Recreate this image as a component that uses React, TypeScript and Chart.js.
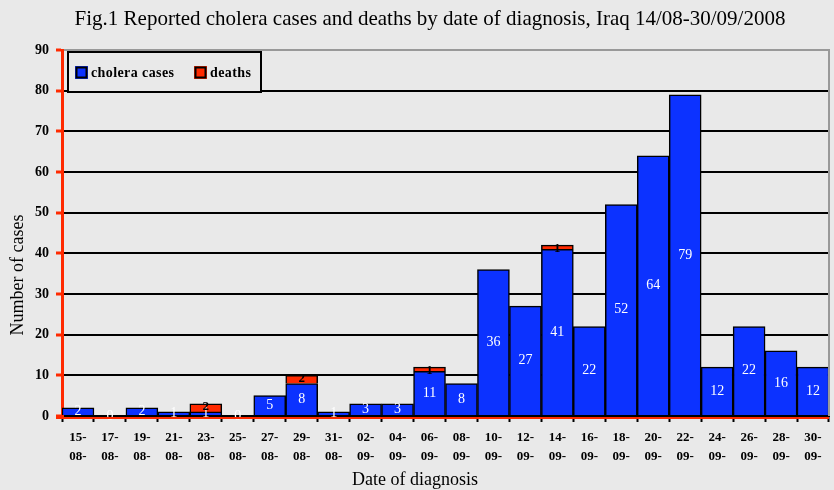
import React, { useEffect, useRef } from 'react';
import { Chart, registerables } from 'chart.js';

Chart.register(...registerables);

const categories = [
  '15-08', '17-08', '19-08', '21-08', '23-08', '25-08', '27-08', '29-08',
  '31-08', '02-09', '04-09', '06-09', '08-09', '10-09', '12-09', '14-09',
  '16-09', '18-09', '20-09', '22-09', '24-09', '26-09', '28-09', '30-09',
];
const choleraCases = [2, 0, 2, 1, 1, 0, 5, 8, 1, 3, 3, 11, 8, 36, 27, 41, 22, 52, 64, 79, 12, 22, 16, 12];
const deaths = [0, 0, 0, 0, 2, 0, 0, 2, 0, 0, 0, 1, 0, 0, 0, 1, 0, 0, 0, 0, 0, 0, 0, 0];
const yMin = 0;
const yMax = 90;
const yStep = 10;

const titleText = 'Fig.1 Reported cholera cases and deaths by date of diagnosis, Iraq 14/08-30/09/2008';
const xTitle = 'Date of diagnosis';
const yTitle = 'Number of cases';
const seriesNames = ['cholera cases', 'deaths'];

const BG = '#e9e9e9';
const BLUE = '#0c32ff';
const RED = '#ff2a00';
const SERIF = '"Liberation Serif", "Times New Roman", serif';

export default function App() {
  const ref = useRef<HTMLCanvasElement>(null);

  useEffect(() => {
    document.body.style.margin = '0';
    document.body.style.background = BG;
    const canvas = ref.current!;

    const decor = {
      id: 'decor',
      beforeDraw(chart: any) {
        const { ctx, width, height } = chart;
        ctx.save();
        ctx.fillStyle = BG;
        ctx.fillRect(0, 0, width, height);
        ctx.restore();
      },
      afterDatasetsDraw(chart: any) {
        const { ctx } = chart;
        ctx.save();
        ctx.textAlign = 'center';
        ctx.textBaseline = 'middle';
        const m0 = chart.getDatasetMeta(0);
        m0.data.forEach((el: any, i: number) => {
          ctx.fillStyle = '#ffffff';
          ctx.font = `14px ${SERIF}`;
          const y = (el.y + el.base) / 2;
          ctx.fillText(String(choleraCases[i]), el.x, y);
        });
        const m1 = chart.getDatasetMeta(1);
        m1.data.forEach((el: any, i: number) => {
          if (!deaths[i]) return;
          ctx.fillStyle = '#000000';
          ctx.font = `bold 13px ${SERIF}`;
          ctx.fillText(String(deaths[i]), el.x, el.y + 3);
        });
        ctx.restore();
      },
      afterDraw(chart: any) {
        const { ctx, chartArea } = chart;
        const { left, right, top, bottom } = chartArea;
        ctx.save();
        // red line under x axis
        ctx.strokeStyle = RED;
        ctx.lineWidth = 2;
        ctx.beginPath();
        ctx.moveTo(left - 6, bottom + 2);
        ctx.lineTo(right, bottom + 2);
        ctx.stroke();
        // right border
        ctx.strokeStyle = '#999999';
        ctx.lineWidth = 2;
        ctx.beginPath();
        ctx.moveTo(right, top - 1);
        ctx.lineTo(right, bottom);
        ctx.stroke();

        // titles
        ctx.fillStyle = '#000000';
        ctx.textAlign = 'center';
        ctx.textBaseline = 'middle';
        ctx.font = `21px ${SERIF}`;
        ctx.fillText(titleText, 430, 19);
        ctx.font = `18px ${SERIF}`;
        ctx.fillText(xTitle, 415, 480);
        ctx.save();
        ctx.translate(18, 275);
        ctx.rotate(-Math.PI / 2);
        ctx.fillText(yTitle, 0, 0);
        ctx.restore();

        // legend
        const lx = 68, ly = 52, lw = 193, lh = 40;
        ctx.fillStyle = BG;
        ctx.fillRect(lx, ly, lw, lh);
        ctx.strokeStyle = '#000';
        ctx.lineWidth = 2;
        ctx.strokeRect(lx, ly, lw, lh);
        const items = [
          { x: 75, color: BLUE, text: seriesNames[0] },
          { x: 194, color: RED, text: seriesNames[1] },
        ];
        ctx.font = `bold 14px ${SERIF}`;
        (ctx as any).letterSpacing = '0.4px';
        ctx.textAlign = 'left';
        items.forEach((it) => {
          ctx.fillStyle = it.color;
          ctx.fillRect(it.x, 66, 13, 13);
          ctx.strokeStyle = '#000';
          ctx.lineWidth = 2;
          ctx.strokeRect(it.x + 1.5, 67.5, 10, 10);
          ctx.fillStyle = '#000';
          ctx.fillText(it.text, it.x + 16, 73);
        });
        ctx.restore();
      },
    };

    const chart = new Chart(canvas, {
      type: 'bar',
      data: {
        labels: categories.map((c) => [c.slice(0, 3), c.slice(3) + '-']),
        datasets: [
          {
            label: seriesNames[0],
            data: choleraCases,
            backgroundColor: BLUE,
            borderColor: '#000',
            borderWidth: 1.5,
            barPercentage: 1,
            categoryPercentage: 1,
          },
          {
            label: seriesNames[1],
            data: deaths,
            backgroundColor: RED,
            borderColor: '#000',
            borderWidth: 1.5,
            barPercentage: 1,
            categoryPercentage: 1,
          },
        ],
      },
      options: {
        responsive: false,
        animation: false,
        layout: { padding: { top: 50, right: 5, left: 0, bottom: 0 } },
        plugins: {
          legend: { display: false },
          title: { display: false },
          tooltip: { enabled: false },
        },
        scales: {
          x: {
            stacked: true,
            grid: {
              display: true,
              drawOnChartArea: false,
              drawTicks: true,
              tickLength: 6,
              tickWidth: 2,
              tickColor: '#000',
              offset: true,
            },
            border: { display: true, color: '#000', width: 2 },
            ticks: {
              color: '#000',
              font: { family: SERIF, size: 13, weight: 'bold', lineHeight: 1.4 },
              padding: 7,
              maxRotation: 0,
              autoSkip: false,
            },
            afterFit: (s: any) => {
              s.height = 74;
            },
          },
          y: {
            stacked: true,
            min: yMin,
            max: yMax,
            ticks: {
              stepSize: yStep,
              color: '#000',
              font: { family: SERIF, size: 14, weight: 'bold' },
              padding: 7,
            },
            grid: {
              color: (ctx: any) => (ctx.tick && ctx.tick.value === yMax ? '#999999' : '#000000'),
              lineWidth: 2,
              tickColor: RED,
              tickLength: 6,
              tickWidth: 3,
            },
            border: { color: RED, width: 3 },
            afterFit: (s: any) => {
              s.width = 62;
            },
          },
        },
      },
      plugins: [decor],
    });
    return () => chart.destroy();
  }, []);

  return (
    <div style={{ width: 834, height: 490 }}>
      <canvas ref={ref} width={834} height={490} />
    </div>
  );
}
